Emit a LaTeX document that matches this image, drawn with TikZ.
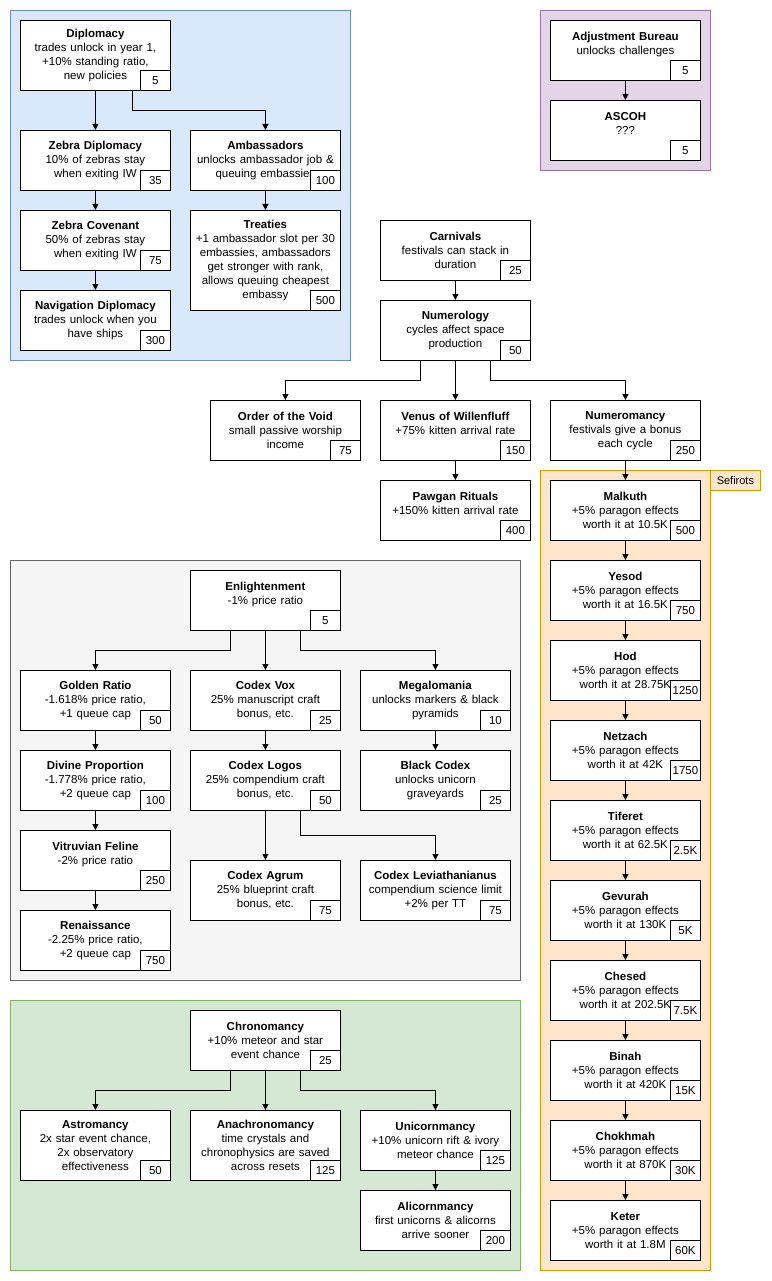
\documentclass[tikz,border=0pt]{standalone}
\usepackage{fontspec}
\setmainfont{Liberation Sans}
\usetikzlibrary{arrows.meta}
\tikzset{
  x=1pt,y=-1pt,
  box/.style={draw=black,fill=white,line width=0.8pt,anchor=north west,inner sep=0pt},
  txt/.style={font=\fontsize{11.5}{14}\selectfont,align=center,inner sep=0pt},
  cost/.style={draw=black,fill=white,line width=0.8pt,anchor=south east,minimum width=30,minimum height=20,inner sep=0pt,font=\fontsize{11.5}{14}\selectfont},
  arr/.style={draw=black,line width=0.8pt,-{Triangle[length=6pt,width=6pt]}},
  grp/.style={line width=0.8pt},
}
\newcommand\nd[7][60]{%
  \node[box,minimum width=150,minimum height=#1] (#2) at (#3,#4) {};
  \node[txt,text width=148] at (#2.center) {#5};
  \node[cost] (#2c) at (#2.south east) {#6#7};
}
\begin{document}
\begin{tikzpicture}
\useasboundingbox (0,0) rectangle (771,1281);
% groups
\draw[grp,fill={rgb,255:red,218;green,232;blue,252},draw={rgb,255:red,108;green,142;blue,191}] (10,10) rectangle (350,360);
\draw[grp,fill={rgb,255:red,225;green,213;blue,231},draw={rgb,255:red,150;green,115;blue,166}] (540,10) rectangle (710,170);
\draw[grp,fill={rgb,255:red,245;green,245;blue,245},draw={rgb,255:red,102;green,102;blue,102}] (10,560) rectangle (520,980);
\draw[grp,fill={rgb,255:red,213;green,232;blue,212},draw={rgb,255:red,130;green,179;blue,102}] (10,1000) rectangle (520,1270);
\draw[grp,fill={rgb,255:red,255;green,230;blue,204},draw={rgb,255:red,215;green,155;blue,0}] (540,470) rectangle (710,1270);
\node[grp,draw={rgb,255:red,215;green,155;blue,0},fill={rgb,255:red,255;green,230;blue,204},anchor=north west,minimum width=50,minimum height=20,inner sep=0pt,font=\fontsize{11}{13}\selectfont] (sefl) at (710,470) {Sefirots};

% blue
\nd[70]{dip}{20}{20}{\textbf{Diplomacy}\\trades unlock in year 1,\\+10\% standing ratio,\\new policies}{5}{}
\nd{zd}{20}{130}{\textbf{Zebra Diplomacy}\\10\% of zebras stay\\when exiting IW}{35}{}
\nd{amb}{190}{130}{\textbf{Ambassadors}\\unlocks ambassador job \&\\queuing embassies}{100}{}
\nd{zc}{20}{210}{\textbf{Zebra Covenant}\\50\% of zebras stay\\when exiting IW}{75}{}
\nd[100]{tre}{190}{210}{\textbf{Treaties}\\+1 ambassador slot per 30\\embassies, ambassadors\\get stronger with rank,\\allows queuing cheapest\\embassy}{500}{}
\nd{nav}{20}{290}{\textbf{Navigation Diplomacy}\\trades unlock when you\\have ships}{300}{}
\draw[arr] (dip.south) -- (zd.north);
\draw[arr] ([xshift=37]dip.south) -- ++(0,20) -| (amb.north);
\draw[arr] (zd.south) -- (zc.north);
\draw[arr] (zc.south) -- (nav.north);
\draw[arr] (amb.south) -- (tre.north);

% purple
\nd{adj}{550}{20}{\textbf{Adjustment Bureau}\\unlocks challenges\\\mbox{}}{5}{}
\nd{asc}{550}{100}{\textbf{ASCOH}\\???\\\mbox{}}{5}{}
\draw[arr] (adj.south) -- (asc.north);

% middle
\nd{car}{380}{220}{\textbf{Carnivals}\\festivals can stack in\\duration}{25}{}
\nd{num}{380}{300}{\textbf{Numerology}\\cycles affect space\\production}{50}{}
\nd{ord}{210}{400}{\textbf{Order of the Void}\\small passive worship\\income}{75}{}
\nd{ven}{380}{400}{\textbf{Venus of Willenfluff}\\+75\% kitten arrival rate\\\mbox{}}{150}{}
\nd{nmc}{550}{400}{\textbf{Numeromancy}\\festivals give a bonus\\each cycle}{250}{}
\nd{paw}{380}{480}{\textbf{Pawgan Rituals}\\+150\% kitten arrival rate\\\mbox{}}{400}{}
\draw[arr] (car.south) -- (num.north);
\draw[arr] ([xshift=-35]num.south) -- ++(0,20) -| (ord.north);
\draw[arr] (num.south) -- (ven.north);
\draw[arr] ([xshift=35]num.south) -- ++(0,20) -| (nmc.north);
\draw[arr] (ven.south) -- (paw.north);

% sefirot
\nd{s1}{550}{480}{\textbf{Malkuth}\\+5\% paragon effects\\worth it at 10.5K}{500}{}
\nd{s2}{550}{560}{\textbf{Yesod}\\+5\% paragon effects\\worth it at 16.5K}{750}{}
\nd{s3}{550}{640}{\textbf{Hod}\\+5\% paragon effects\\worth it at 28.75K}{1250}{}
\nd{s4}{550}{720}{\textbf{Netzach}\\+5\% paragon effects\\worth it at 42K}{1750}{}
\nd{s5}{550}{800}{\textbf{Tiferet}\\+5\% paragon effects\\worth it at 62.5K}{2.5K}{}
\nd{s6}{550}{880}{\textbf{Gevurah}\\+5\% paragon effects\\worth it at 130K}{5K}{}
\nd{s7}{550}{960}{\textbf{Chesed}\\+5\% paragon effects\\worth it at 202.5K}{7.5K}{}
\nd{s8}{550}{1040}{\textbf{Binah}\\+5\% paragon effects\\worth it at 420K}{15K}{}
\nd{s9}{550}{1120}{\textbf{Chokhmah}\\+5\% paragon effects\\worth it at 870K}{30K}{}
\nd{s10}{550}{1200}{\textbf{Keter}\\+5\% paragon effects\\worth it at 1.8M}{60K}{}
\draw[arr] (nmc.south) -- (s1.north);
\foreach \a/\b in {s1/s2,s2/s3,s3/s4,s4/s5,s5/s6,s6/s7,s7/s8,s8/s9,s9/s10}
  \draw[arr] (\a.south) -- (\b.north);

% gray
\nd{enl}{190}{570}{\textbf{Enlightenment}\\-1\% price ratio\\\mbox{}}{5}{}
\nd{gol}{20}{670}{\textbf{Golden Ratio}\\-1.618\% price ratio,\\+1 queue cap}{50}{}
\nd{vox}{190}{670}{\textbf{Codex Vox}\\25\% manuscript craft\\bonus, etc.}{25}{}
\nd{meg}{360}{670}{\textbf{Megalomania}\\unlocks markers \& black\\pyramids}{10}{}
\nd{div}{20}{750}{\textbf{Divine Proportion}\\-1.778\% price ratio,\\+2 queue cap}{100}{}
\nd{log}{190}{750}{\textbf{Codex Logos}\\25\% compendium craft\\bonus, etc.}{50}{}
\nd{blk}{360}{750}{\textbf{Black Codex}\\unlocks unicorn\\graveyards}{25}{}
\nd{vit}{20}{830}{\textbf{Vitruvian Feline}\\-2\% price ratio\\\mbox{}}{250}{}
\nd{agr}{190}{860}{\textbf{Codex Agrum}\\25\% blueprint craft\\bonus, etc.}{75}{}
\nd{lev}{360}{860}{\textbf{Codex Leviathanianus}\\compendium science limit\\+2\% per TT}{75}{}
\nd{ren}{20}{910}{\textbf{Renaissance}\\-2.25\% price ratio,\\+2 queue cap}{750}{}
\draw[arr] ([xshift=-35]enl.south) -- ++(0,20) -| (gol.north);
\draw[arr] (enl.south) -- (vox.north);
\draw[arr] ([xshift=35]enl.south) -- ++(0,20) -| (meg.north);
\draw[arr] (gol.south) -- (div.north);
\draw[arr] (div.south) -- (vit.north);
\draw[arr] (vit.south) -- (ren.north);
\draw[arr] (vox.south) -- (log.north);
\draw[arr] (meg.south) -- (blk.north);
\draw[arr] (log.south) -- (agr.north);
\draw[arr] ([xshift=35]log.south) -- ++(0,25) -| (lev.north);

% green
\nd{chr}{190}{1010}{\textbf{Chronomancy}\\+10\% meteor and star\\event chance}{25}{}
\nd[70]{ast}{20}{1110}{\textbf{Astromancy}\\2x star event chance,\\2x observatory\\effectiveness}{50}{}
\nd[70]{ana}{190}{1110}{\textbf{Anachronomancy}\\time crystals and\\chronophysics are saved\\across resets}{125}{}
\nd{uni}{360}{1110}{\textbf{Unicornmancy}\\+10\% unicorn rift \& ivory\\meteor chance}{125}{}
\nd{ali}{360}{1190}{\textbf{Alicornmancy}\\first unicorns \& alicorns\\arrive sooner}{200}{}
\draw[arr] ([xshift=-35]chr.south) -- ++(0,20) -| (ast.north);
\draw[arr] (chr.south) -- (ana.north);
\draw[arr] ([xshift=35]chr.south) -- ++(0,20) -| (uni.north);
\draw[arr] (uni.south) -- (ali.north);
\end{tikzpicture}
\end{document}
